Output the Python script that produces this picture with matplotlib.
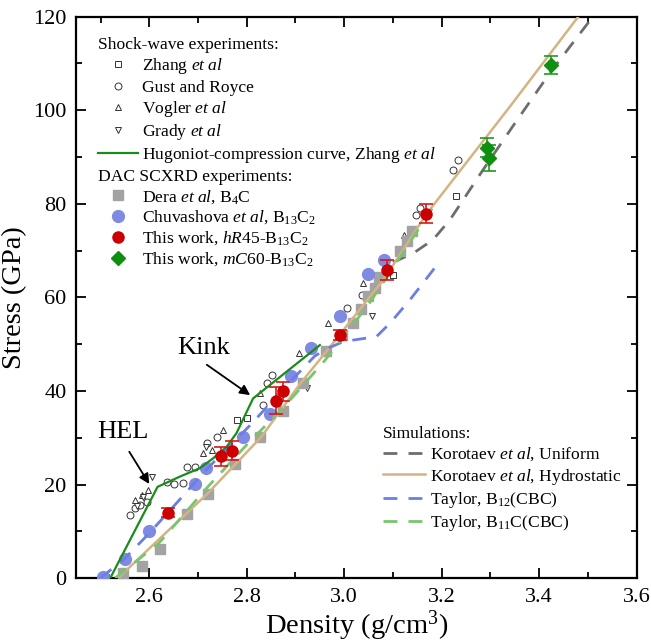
import matplotlib
matplotlib.use('Agg')
import matplotlib.pyplot as plt
from matplotlib.lines import Line2D

plt.rcParams['font.family'] = 'Liberation Serif'
plt.rcParams['mathtext.fontset'] = 'custom'
plt.rcParams['mathtext.rm'] = 'Liberation Serif'
plt.rcParams['mathtext.it'] = 'Liberation Serif:italic'

# shock-wave experiments (open markers)
zhang_x = [2.512, 2.779, 2.800, 3.100, 3.230]
zhang_y = [0.3, 33.8, 34.2, 64.8, 81.7]
gust_x = [2.561, 2.571, 2.581, 2.595, 2.636, 2.650, 2.670, 2.677, 2.694, 2.718, 2.738,
          2.834, 2.841, 2.851, 3.005, 3.036, 3.148, 3.155, 3.223, 3.234]
gust_y = [13.5, 14.9, 15.6, 16.3, 20.6, 20.1, 20.3, 23.8, 23.8, 28.8, 30.2,
          37.0, 41.6, 43.4, 57.7, 60.5, 77.7, 79.1, 87.2, 89.4]
vogler_x = [2.571, 2.585, 2.598, 2.711, 2.728, 2.752, 2.827, 2.908, 2.967, 3.039, 3.123]
vogler_y = [16.7, 17.8, 18.9, 26.8, 27.4, 31.7, 39.5, 48.2, 54.5, 63.0, 73.4]
grady_x = [2.575, 2.588, 2.605, 2.716, 2.923, 3.056]
grady_y = [15.5, 17.4, 21.7, 28.0, 40.6, 56.0]

# Hugoniot-compression curve (Zhang et al)
hug_x = [2.520, 2.617, 2.663, 2.704, 2.731, 2.759, 2.779, 2.813, 2.950]
hug_y = [0.0, 19.5, 21.7, 23.5, 25.6, 28.1, 31.0, 38.4, 49.8]

# DAC SCXRD experiments
dera_x = [2.547, 2.585, 2.621, 2.678, 2.721, 2.776, 2.827, 2.875, 2.915, 2.963,
          2.995, 3.018, 3.035, 3.049, 3.063, 3.072, 3.114, 3.128, 3.139]
dera_y = [1.0, 2.6, 6.2, 13.7, 18.0, 24.3, 30.1, 35.7, 41.8, 48.6,
          52.0, 54.5, 57.5, 60.2, 62.0, 64.3, 70.0, 72.0, 74.1]
chuv_x = [2.505, 2.550, 2.600, 2.694, 2.717, 2.793, 2.848, 2.890, 2.932, 2.991, 3.048, 3.082]
chuv_y = [0.2, 4.0, 10.1, 20.1, 23.5, 30.1, 35.1, 43.3, 49.2, 56.0, 65.0, 68.0]
hr45_x = [2.639, 2.747, 2.770, 2.860, 2.875, 2.991, 3.087, 3.167]
hr45_y = [14.0, 26.0, 27.2, 37.9, 39.9, 52.0, 65.9, 77.9]
hr45_err = [1.0, 2.1, 2.0, 2.9, 2.0, 1.1, 2.1, 2.0]
mc60_x = [3.293, 3.296, 3.425]
mc60_y = [92.0, 89.8, 109.7]
mc60_err = [2.0, 2.8, 2.0]

# simulations
kor_uni_x = [3.100, 3.141, 3.182, 3.217, 3.285, 3.346, 3.422, 3.510]
kor_uni_y = [67.5, 69.4, 72.3, 76.6, 87.3, 96.6, 108.0, 120.0]
kor_hyd_x = [2.536, 2.620, 2.720, 2.830, 2.910, 2.960, 3.080, 3.170, 3.340, 3.480]
kor_hyd_y = [0.0, 8.3, 18.1, 30.2, 41.6, 48.0, 63.7, 78.0, 100.8, 120.0]
tay_b12_x = [2.500, 2.550, 2.600, 2.660, 2.720, 2.810, 2.880, 2.940, 2.970, 3.000, 3.066, 3.094, 3.135, 3.196]
tay_b12_y = [0.0, 4.2, 9.6, 16.5, 23.5, 33.0, 41.0, 47.5, 49.3, 50.6, 51.6, 54.5, 59.5, 67.7]
tay_b11c_x = [2.530, 2.620, 2.720, 2.800, 2.880, 2.960, 3.050, 3.120, 3.190]
tay_b11c_y = [0.0, 7.5, 19.5, 28.5, 37.0, 46.5, 58.5, 69.5, 80.5]

fig = plt.figure(figsize=(6.51, 6.43), dpi=100)
ax = fig.add_axes([0.117, 0.101, 0.861, 0.873])

open_kw = dict(linestyle='none', mfc='white', mec='#333333', mew=0.7, ms=5, zorder=3)
ax.plot(zhang_x, zhang_y, marker='s', label=r'Zhang $\mathit{et\ al}$', **open_kw)
ax.plot(gust_x, gust_y, marker='o', label='Gust and Royce', **open_kw)
ax.plot(vogler_x, vogler_y, marker='^', label=r'Vogler $\mathit{et\ al}$', **open_kw)
ax.plot(grady_x, grady_y, marker='v', label=r'Grady $\mathit{et\ al}$', **open_kw)

ax.plot(dera_x, dera_y, 's', color='#a3a3a3', ms=7.5, zorder=3, label=r'Dera $\mathit{et\ al}$, B$_4$C')
ax.plot(chuv_x, chuv_y, 'o', color='#7f8be3', ms=8.5, zorder=3,
        label=r'Chuvashova $\mathit{et\ al}$, B$_{13}$C$_2$')

# simulation lines
ax.plot(kor_uni_x, kor_uni_y, color='#6e6e6e', lw=2.0, dashes=(5, 4), zorder=2,
        label=r'Korotaev $\mathit{et\ al}$, Uniform')
ax.plot(kor_hyd_x, kor_hyd_y, color='#d4b483', lw=1.8, zorder=4,
        label=r'Korotaev $\mathit{et\ al}$, Hydrostatic')
ax.plot(tay_b12_x, tay_b12_y, color='#6b7de6', lw=2.0, dashes=(5, 4), zorder=4,
        label=r'Taylor, B$_{12}$(CBC)')
ax.plot(tay_b11c_x, tay_b11c_y, color='#77c66e', lw=2.0, dashes=(5, 4), zorder=4,
        label=r'Taylor, B$_{11}$C(CBC)')

ax.plot(hug_x, hug_y, color='#1a8c1a', lw=1.6, zorder=5,
        label=r'Hugoniot-compression curve, Zhang $\mathit{et\ al}$')

ax.errorbar(hr45_x, hr45_y, yerr=hr45_err, fmt='none', ecolor='#d41a1a', elinewidth=1.2,
            capsize=5, capthick=1.2, zorder=6)
ax.plot(hr45_x, hr45_y, 'o', color='#cc0000', ms=8, zorder=7,
        label=r'This work, $\mathit{hR}$45-B$_{13}$C$_2$')
ax.errorbar(mc60_x, mc60_y, yerr=mc60_err, fmt='none', ecolor='#1f9a1f', elinewidth=1.2,
            capsize=5, capthick=1.2, zorder=6)
ax.plot(mc60_x, mc60_y, 'D', color='#0f8f0f', ms=7.5, zorder=7,
        label=r'This work, $\mathit{mC}$60-B$_{13}$C$_2$')

# annotations
arrow = dict(arrowstyle='-|>', color='black', lw=1.3, mutation_scale=15, shrinkA=0, shrinkB=0)
ax.text(2.545, 31.2, 'HEL', fontsize=19, ha='center', va='center')
ax.annotate('', xy=(2.600, 20.1), xytext=(2.559, 27.0), arrowprops=arrow)
ax.text(2.712, 49.2, 'Kink', fontsize=19, ha='center', va='center')
ax.annotate('', xy=(2.807, 39.1), xytext=(2.718, 45.6), arrowprops=arrow)

ax.set_xlim(2.45, 3.6)
ax.set_ylim(0, 120)
ax.set_xticks([2.6, 2.8, 3.0, 3.2, 3.4, 3.6])
ax.set_xticks([2.5, 2.7, 2.9, 3.1, 3.3, 3.5], minor=True)
ax.set_yticks([0, 20, 40, 60, 80, 100, 120])
ax.set_yticks([10, 30, 50, 70, 90, 110], minor=True)
ax.set_xticklabels(['2.6', '2.8', '3.0', '3.2', '3.4', '3.6'])
ax.tick_params(which='both', direction='in', top=True, right=True, width=1.3, labelsize=16, pad=7)
ax.tick_params(which='major', length=7)
ax.tick_params(which='minor', length=4)
for s in ax.spines.values():
    s.set_linewidth(1.6)
ax.set_xlabel('Density (g/cm$^3$)', fontsize=20.5, labelpad=1)
ax.set_ylabel('Stress (GPa)', fontsize=20.5, labelpad=4)

# legends with section headers
handles, labels = ax.get_legend_handles_labels()
lookup = dict(zip(labels, handles))
blank = Line2D([], [], linestyle='none')
order1 = ['Shock-wave experiments:', r'Zhang $\mathit{et\ al}$', 'Gust and Royce',
          r'Vogler $\mathit{et\ al}$', r'Grady $\mathit{et\ al}$',
          r'Hugoniot-compression curve, Zhang $\mathit{et\ al}$',
          'DAC SCXRD experiments:', r'Dera $\mathit{et\ al}$, B$_4$C',
          r'Chuvashova $\mathit{et\ al}$, B$_{13}$C$_2$',
          r'This work, $\mathit{hR}$45-B$_{13}$C$_2$',
          r'This work, $\mathit{mC}$60-B$_{13}$C$_2$']
headers1 = ['Shock-wave experiments:', 'DAC SCXRD experiments:']
fs = 12.6
hl1, tp1 = 2.3, 0.2
leg1 = ax.legend([lookup.get(l, blank) for l in order1], order1, loc='upper left',
                 bbox_to_anchor=(0.039, 0.964), frameon=False, fontsize=fs,
                 handlelength=hl1, handletextpad=tp1, labelspacing=0.18,
                 borderpad=0, borderaxespad=0)
shift1 = (hl1 + tp1) * fs * fig.dpi / 72
for t in leg1.get_texts():
    if t.get_text() in headers1:
        t.set_x(-shift1)
ax.add_artist(leg1)

order2 = ['Simulations:', r'Korotaev $\mathit{et\ al}$, Uniform',
          r'Korotaev $\mathit{et\ al}$, Hydrostatic',
          r'Taylor, B$_{12}$(CBC)', r'Taylor, B$_{11}$C(CBC)']
hl2, tp2 = 2.4, 0.28
leg2 = ax.legend([lookup.get(l, blank) for l in order2], order2, loc='upper left',
                 bbox_to_anchor=(0.547, 0.271), frameon=False, fontsize=fs,
                 handlelength=hl2, handletextpad=tp2, labelspacing=0.19,
                 borderpad=0, borderaxespad=0)
shift2 = (hl2 + tp2) * fs * fig.dpi / 72
for t in leg2.get_texts():
    if t.get_text() == 'Simulations:':
        t.set_x(-shift2)

fig.savefig('out.png', dpi=100)
